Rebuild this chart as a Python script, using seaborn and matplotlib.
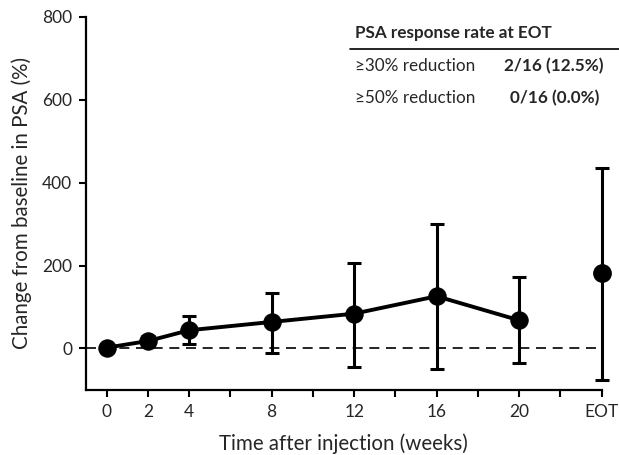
import matplotlib
matplotlib.use("Agg")
import matplotlib.pyplot as plt
import pandas as pd
import seaborn as sns

# data
weeks = [0, 2, 4, 8, 12, 16, 20]
mean_change = [2, 18, 44, 64, 84, 126, 68]
err_low = [-4, 5, 10, -11, -44, -49, -36]
err_high = [8, 30, 78, 134, 207, 300, 173]
eot_pos = 24
eot_mean = 181
eot_low = -75
eot_high = 436
tick_pos = [0, 2, 4, 6, 8, 10, 12, 14, 16, 18, 20, 22, 24]
tick_labels = ["0", "2", "4", "", "8", "", "12", "", "16", "", "20", "", "EOT"]
table_rows = ["\u226530% reduction", "\u226550% reduction"]
table_vals = ["2/16 (12.5%)", "0/16 (0.0%)"]

sns.set_style("ticks")
plt.rcParams['font.family'] = ['Lato', 'DejaVu Sans']

df = pd.DataFrame({'week': weeks, 'change': mean_change})

fig = plt.figure(figsize=(6.19, 4.55), dpi=100)
ax = fig.add_axes([0.139, 0.143, 0.833, 0.820])

ax.axhline(0, color='black', lw=1.2, ls=(0, (6, 4)), zorder=1)

all_x = weeks + [eot_pos]
all_y = mean_change + [eot_mean]
lo = [m - l for m, l in zip(all_y, err_low + [eot_low])]
hi = [h - m for m, h in zip(all_y, err_high + [eot_high])]
ax.errorbar(all_x, all_y, yerr=[lo, hi], fmt='none', ecolor='black',
            elinewidth=2.2, capsize=5, capthick=2.2, zorder=2, clip_on=False)

sns.lineplot(data=df, x='week', y='change', color='black', lw=2.8,
             marker='o', markersize=12.5, markeredgecolor='black', ax=ax,
             zorder=3, clip_on=False)
ax.plot([eot_pos], [eot_mean], 'o', color='black', markersize=12.5, zorder=3, clip_on=False)

ax.set_xlim(-1, 24)
ax.set_ylim(-100, 800)
ax.set_xticks(tick_pos)
ax.set_xticklabels(tick_labels)
ax.set_yticks([0, 200, 400, 600, 800])
ax.tick_params(width=1.5, length=5, labelsize=12.5, color='black', pad=5)
for s in ['left', 'bottom']:
    ax.spines[s].set_linewidth(1.6)
    ax.spines[s].set_color('black')
sns.despine(ax=ax)

ax.set_xlabel('Time after injection (weeks)', fontsize=14.8, labelpad=10)
ax.set_ylabel('Change from baseline in PSA (%)', fontsize=14.8, labelpad=7)

# response table
ax.text(0.522, 0.957, 'PSA response rate at EOT', transform=ax.transAxes,
        fontsize=12.3, fontweight='bold', va='center', ha='left')
ax.plot([0.512, 1.035], [0.914, 0.914], transform=ax.transAxes,
        color='black', lw=1.2, clip_on=False)
for i, (r, v) in enumerate(zip(table_rows, table_vals)):
    yy = 0.869 - i * 0.086
    ax.text(0.522, yy, r, transform=ax.transAxes, fontsize=12.3, va='center', ha='left')
    ax.text(0.908, yy, v, transform=ax.transAxes, fontsize=12.3, fontweight='bold',
            va='center', ha='center')

fig.savefig('out.png', dpi=100)
